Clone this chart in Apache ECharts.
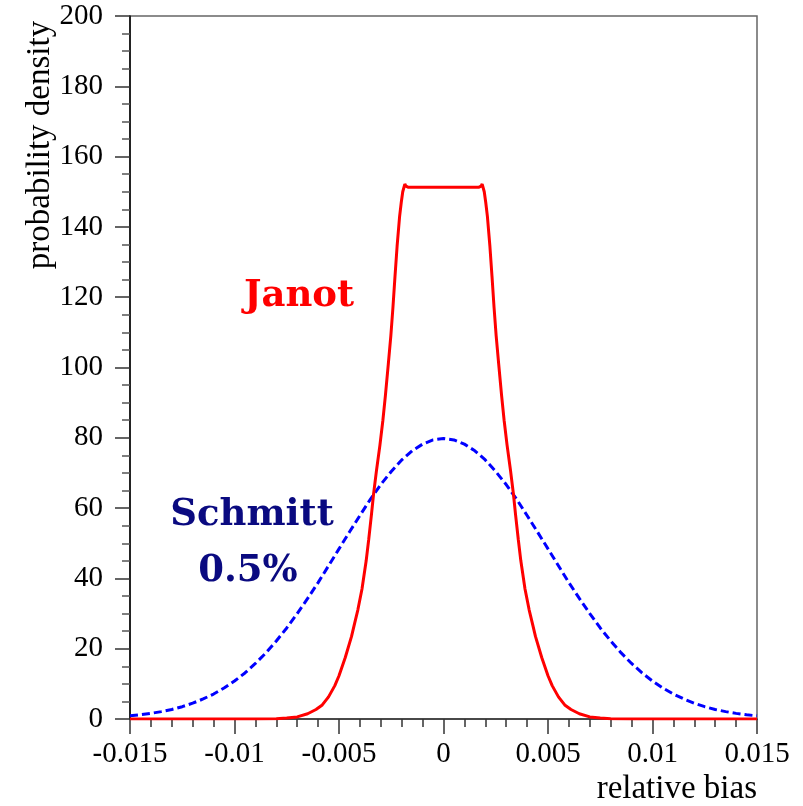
<!DOCTYPE html>
<html>
<head>
<meta charset="utf-8">
<script src="https://cdn.jsdelivr.net/npm/echarts@6/dist/echarts.min.js"></script>
<style>
  html, body { margin: 0; padding: 0; background: #fff; }
  #chart { width: 803px; height: 806px; }
</style>
</head>
<body>
<div id="chart"></div>
<script>
// 读图得到的数据
var janotX = [-0.015, -0.011, -0.009, -0.008, -0.0075, -0.007, -0.0065, -0.0061, -0.0058, -0.0055, -0.0052, -0.005, -0.0047, -0.0044, -0.00425, -0.0041, -0.0039, -0.0037, -0.00358, -0.00345, -0.00335, -0.0032, -0.00304, -0.0029, -0.00278, -0.00264, -0.00252, -0.00242, -0.00232, -0.00222, -0.0021, -0.00202, -0.00195, -0.00185, -0.0018, -0.0017,
    0,
    0.0017, 0.0018, 0.00185, 0.00195, 0.00202, 0.0021, 0.00222, 0.00232, 0.00242, 0.00252, 0.00264, 0.00278, 0.0029, 0.00304, 0.0032, 0.00335, 0.00345, 0.00358, 0.0037, 0.0039, 0.0041, 0.00425, 0.0044, 0.0047, 0.005, 0.0052, 0.0055, 0.0058, 0.0061, 0.0065, 0.007, 0.0075, 0.008, 0.009, 0.011, 0.015];
var janotY = [0, 0, 0.02, 0.1, 0.3, 0.6, 1.5, 2.7, 4, 6.3, 9.5, 12.3, 17.5, 23.5, 27.3, 31, 37, 45, 51, 58, 63.8, 71, 78, 85, 92, 101, 109, 117, 126, 134.5, 143, 147, 150, 152.2, 151.6, 151.3,
    151.3,
    151.3, 151.6, 152.2, 150, 147, 143, 134.5, 126, 117, 109, 101, 92, 85, 78, 71, 63.8, 58, 51, 45, 37, 31, 27.3, 23.5, 17.5, 12.3, 9.5, 6.3, 4, 2.7, 1.5, 0.6, 0.3, 0.1, 0.02, 0, 0];

// Schmitt 0.5%：x 从 -0.015 到 0.015，步长 0.0005
var schmittX = [];
for (var i = 0; i <= 60; i++) { schmittX.push(-0.015 + i * 0.0005); }
var schmittY = [0.9, 1.2, 1.6, 2.1, 2.7, 3.5, 4.5, 5.7, 7.1, 8.8, 10.8, 13.1, 15.8, 18.8, 22.2, 25.9, 30.0, 34.3, 38.8, 43.6, 48.4, 53.2, 57.9, 62.5, 66.7, 70.4, 73.7, 76.3, 78.2, 79.4, 79.8,
    79.4, 78.2, 76.3, 73.7, 70.4, 66.7, 62.5, 57.9, 53.2, 48.4, 43.6, 38.8, 34.3, 30.0, 25.9, 22.2, 18.8, 15.8, 13.1, 10.8, 8.8, 7.1, 5.7, 4.5, 3.5, 2.7, 2.1, 1.6, 1.2, 0.9];

var xTicks = [-0.015, -0.01, -0.005, 0, 0.005, 0.01, 0.015];
var xTickLabels = ['-0.015', '-0.01', '-0.005', '0', '0.005', '0.01', '0.015'];

function pairs(xs, ys) {
    var out = [];
    for (var i = 0; i < xs.length; i++) { out.push([xs[i], ys[i]]); }
    return out;
}

var myChart = echarts.init(document.getElementById('chart'));
var serifFont = '"Liberation Serif", "DejaVu Serif", serif';
var boldFont = 'bold 37px "DejaVu Serif", serif';

var option = {
    backgroundColor: '#fff',
    animation: false,
    grid: {
        left: 130, right: 46, top: 16, bottom: 87,
        show: true,
        borderColor: '#666',
        borderWidth: 1.5
    },
    xAxis: {
        type: 'value',
        min: -0.015, max: 0.015, interval: 0.005,
        axisLine: { onZero: false, lineStyle: { color: '#333', width: 1.5 } },
        axisTick: { inside: false, length: 15, lineStyle: { color: '#333', width: 1.5 } },
        minorTick: { show: true, splitNumber: 5, length: 8, lineStyle: { color: '#333', width: 1.5 } },
        splitLine: { show: false },
        axisLabel: {
            margin: 21,
            color: '#000',
            fontFamily: serifFont,
            fontSize: 29,
            formatter: function (v) {
                for (var i = 0; i < xTicks.length; i++) {
                    if (Math.abs(v - xTicks[i]) < 1e-9) return xTickLabels[i];
                }
                return '';
            }
        }
    },
    yAxis: {
        type: 'value',
        min: 0, max: 200, interval: 20,
        axisLine: { onZero: false, lineStyle: { color: '#000', width: 1.5 } },
        axisTick: { inside: false, length: 15, lineStyle: { color: '#333', width: 1.5 } },
        minorTick: { show: true, splitNumber: 4, length: 8, lineStyle: { color: '#555', width: 1.5 } },
        splitLine: { show: false },
        axisLabel: {
            margin: 27,
            color: '#000',
            fontFamily: serifFont,
            fontSize: 29
        }
    },
    graphic: [
        {
            type: 'text',
            x: 40, y: 145, rotation: Math.PI / 2,
            style: {
                text: 'probability density', fill: '#000',
                font: '33px ' + serifFont,
                textAlign: 'center', textVerticalAlign: 'middle'
            }
        },
        {
            type: 'text',
            style: {
                text: 'relative bias', fill: '#000',
                font: '33px ' + serifFont,
                textAlign: 'right', textVerticalAlign: 'bottom',
                x: 757, y: 806
            }
        },
        {
            type: 'text',
            style: {
                text: 'Janot', fill: '#ff0000', font: boldFont,
                textAlign: 'center', textVerticalAlign: 'middle',
                x: 299, y: 296
            }
        },
        {
            type: 'text',
            style: {
                text: 'Schmitt', fill: '#0a0a80', font: boldFont,
                textAlign: 'center', textVerticalAlign: 'middle',
                x: 252, y: 515
            }
        },
        {
            type: 'text',
            style: {
                text: '0.5%', fill: '#0a0a80', font: boldFont,
                textAlign: 'center', textVerticalAlign: 'middle',
                x: 248, y: 571
            }
        }
    ],
    series: [
        {
            name: 'Schmitt 0.5%',
            type: 'line',
            data: pairs(schmittX, schmittY),
            showSymbol: false,
            smooth: false,
            lineStyle: { color: '#0000ff', width: 3, type: [8, 4] }
        },
        {
            name: 'Janot',
            type: 'line',
            data: pairs(janotX, janotY),
            showSymbol: false,
            smooth: false,
            lineStyle: { color: '#ff0000', width: 3 }
        }
    ]
};

myChart.setOption(option);
</script>
</body>
</html>
